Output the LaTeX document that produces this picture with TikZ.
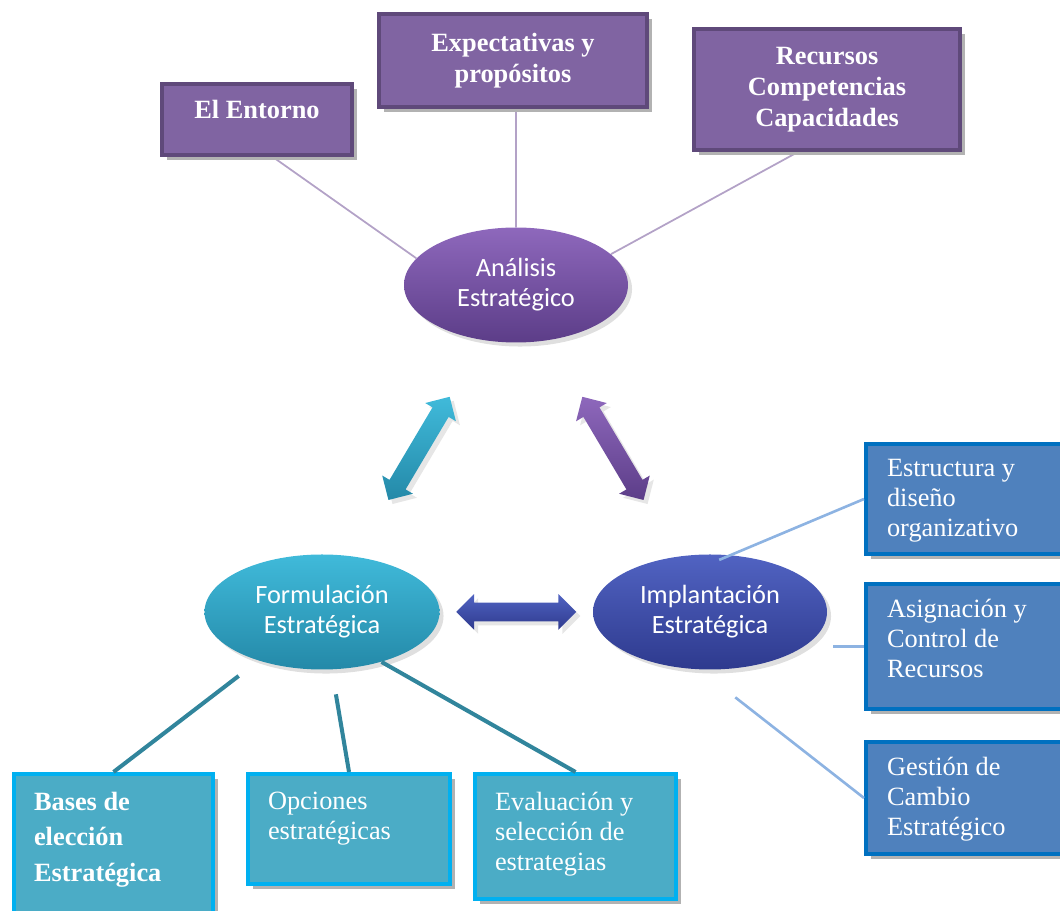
\documentclass[tikz,border=0pt]{standalone}
\usepackage{fontspec}
\setmainfont{Liberation Serif}
\newfontfamily\calibrifont{Carlito}
\usetikzlibrary{shapes.geometric,shapes.arrows,shadows,backgrounds,positioning}

\definecolor{boxpurple}{HTML}{8064A2}
\definecolor{borderpurple}{HTML}{5F497A}
\definecolor{linepurple}{HTML}{B3A2C7}
\definecolor{ovalpurpletop}{HTML}{8E68BC}
\definecolor{ovalpurplebot}{HTML}{5C3D88}
\definecolor{ovalbluetop}{HTML}{5163C2}
\definecolor{ovalbluebot}{HTML}{2E3A8E}
\definecolor{ovaltealtop}{HTML}{40BADA}
\definecolor{ovaltealbot}{HTML}{2489A8}
\definecolor{boxblue}{HTML}{4F81BD}
\definecolor{borderblue}{HTML}{0070C0}
\definecolor{lineblue}{HTML}{8DB3E2}
\definecolor{boxteal}{HTML}{4BACC6}
\definecolor{borderteal}{HTML}{00B0F0}
\definecolor{lineteal}{HTML}{31859C}

\begin{document}
\begin{tikzpicture}[x=0.2mm,y=-0.2mm,
		boxshadow/.style={drop shadow={shadow xshift=2.6pt,shadow yshift=-2.6pt,fill=black!30,opacity=1}},
		purplebox/.style={boxshadow, rectangle, fill=boxpurple, draw=borderpurple, line width=2.3pt,
				text=white, font=\fontsize{15}{17.5}\selectfont\bfseries, align=center, anchor=north west, inner sep=0pt},
		bluebox/.style={boxshadow, rectangle, fill=boxblue, draw=borderblue, line width=2.3pt,
				text=white, font=\fontsize{15}{17}\selectfont, anchor=north west, inner xsep=0.42cm, inner ysep=0.3cm},
		tealbox/.style={boxshadow, rectangle, fill=boxteal, draw=borderteal, line width=2.3pt,
				text=white, font=\fontsize{15}{17}\selectfont, anchor=north west, inner xsep=0.4cm, inner ysep=0.37cm},
		oval/.style={ellipse, minimum height=2.3cm, inner sep=0pt, align=center, text=white,
				font=\calibrifont\fontsize{15}{17}\selectfont, drop shadow={opacity=0.25}},
		darrow/.style={double arrow, minimum height=2.4cm, double arrow head extend=0.17cm,
				inner xsep=0pt, inner ysep=0.18cm, sloped, midway, drop shadow={opacity=0.2}},
		purpleline/.style={draw=linepurple, line width=1pt},
		blueline/.style={draw=lineblue, line width=1.5pt},
		tealline/.style={draw=lineteal, line width=2.3pt},
	]
	\useasboundingbox (0,0) rectangle (1060,911);
	\clip (0,0) rectangle (1060,911);

	% ovals
	\node[oval, minimum width=4.48cm, top color=ovalpurpletop, bottom color=ovalpurplebot] (analisis) at (516,285) {Análisis\\Estratégico};
	\node[oval, minimum width=4.7cm, top color=ovaltealtop, bottom color=ovaltealbot] (formul) at (322,612) {Formulación\\Estratégica};
	\node[oval, minimum width=4.68cm, top color=ovalbluetop, bottom color=ovalbluebot] (implant) at (710,612) {Implantación\\Estratégica};

	% top boxes
	\node[purplebox, minimum width=3.8cm, minimum height=1.42cm, text depth=0.42cm] (entorno) at (160,82) {El Entorno};
	\node[purplebox, minimum width=5.36cm, minimum height=1.86cm] (expect) at (377,12) {Expectativas y\\propósitos};
	\node[purplebox, minimum width=5.32cm, minimum height=2.42cm] (recursos) at (692,27) {Recursos\\Competencias\\Capacidades};

	% right boxes
	\node[bluebox] (estruct) at (864,442) {\parbox[t][1.6cm][t]{3.6cm}{Estructura y\\diseño\\organizativo}};
	\node[bluebox] (asign) at (864,582) {\parbox[t][1.9cm][t]{3.6cm}{Asignación y\\Control de\\Recursos}};
	\node[bluebox] (gestion) at (864,740) {\parbox[t][1.64cm][t]{3.6cm}{Gestión de\\Cambio\\Estratégico}};

	% bottom boxes
	\node[tealbox, font=\fontsize{15}{20}\selectfont\bfseries] (bases) at (12,772) {\parbox[t][2.3cm][t]{3.18cm}{Bases de\\elección\\Estratégica}};
	\node[tealbox] (opciones) at (246,772) {\parbox[t][1.46cm][t]{3.24cm}{Opciones\\estratégicas}};
	\node[tealbox] (evalua) at (473,772) {\parbox[t][1.76cm][t]{3.22cm}{Evaluación y\\selección de\\estrategias}};

	% double arrows
	\path (formul) -- node[darrow, top color=ovaltealtop, bottom color=ovaltealbot] (fa) {} (analisis);
	\path (analisis) -- node[darrow, top color=ovalpurpletop, bottom color=ovalpurplebot] (ai) {} (implant);
	\path (formul) -- node[darrow, top color=ovalbluetop, bottom color=ovalbluebot] (fi) {} (implant);

	\begin{scope}[on background layer]
		\draw[purpleline] (entorno.-67) -- (analisis.165);
		\draw[purpleline] (analisis.north |- expect.south) -- (analisis.north);
		\draw[purpleline] (recursos.-115) -- (analisis.18);
	\end{scope}

	\draw[blueline, shorten >=-0.25cm] (estruct.west) -- (implant.70);
	\draw[blueline, shorten >=0.12cm] (asign.west) -- (implant.east |- asign.west);
	\draw[blueline, shorten >=0.9cm] (gestion.west) -- (implant.-100);

	\draw[tealline, shorten <=0.5cm] (formul) -- (bases.north);
	\draw[tealline, shorten <=0.5cm] (formul) -- (opciones.north);
	\draw[tealline] (formul.-40) -- (evalua.north);
\end{tikzpicture}
\end{document}
